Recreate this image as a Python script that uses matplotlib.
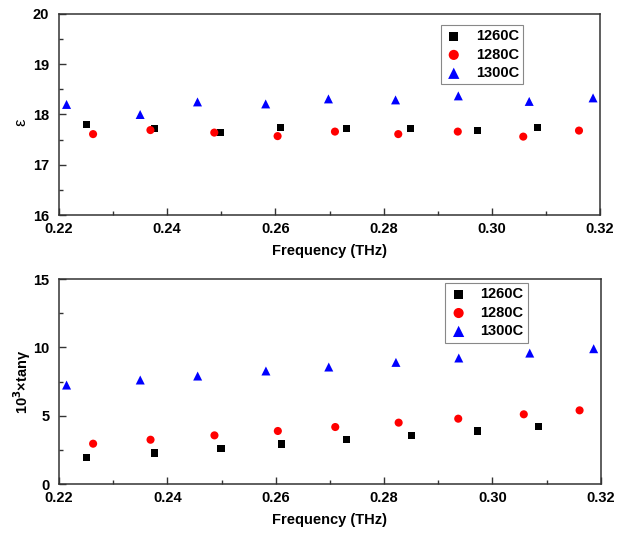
import numpy as np
import matplotlib
matplotlib.use('Agg')
import matplotlib.pyplot as plt
from matplotlib.ticker import MultipleLocator

plt.rcParams['font.family'] = ['Liberation Sans', 'DejaVu Sans']

labels = ['1260C', '1280C', '1300C']

# permittivity
f_1260 = [0.2251, 0.2376, 0.2499, 0.2610, 0.2731, 0.2850, 0.2973, 0.3085]
eps_1260 = [17.80, 17.72, 17.65, 17.74, 17.73, 17.73, 17.69, 17.75]
f_1280 = [0.2263, 0.2369, 0.2487, 0.2604, 0.2710, 0.2827, 0.2937, 0.3058, 0.3161]
eps_1280 = [17.61, 17.69, 17.64, 17.57, 17.66, 17.61, 17.66, 17.56, 17.68]
f_1300 = [0.2214, 0.2350, 0.2456, 0.2582, 0.2698, 0.2822, 0.2938, 0.3069, 0.3187]
eps_1300 = [18.20, 18.00, 18.25, 18.21, 18.31, 18.29, 18.37, 18.26, 18.33]

# loss tangent (x1e3)
tan_1260 = [1.93, 2.27, 2.58, 2.93, 3.24, 3.53, 3.88, 4.19]
tan_1280 = [2.95, 3.24, 3.56, 3.88, 4.17, 4.49, 4.78, 5.10, 5.39]
tan_1300 = [7.24, 7.61, 7.90, 8.27, 8.56, 8.90, 9.22, 9.58, 9.90]

styles = [('s', 'black', 26), ('o', 'red', 34), ('^', 'blue', 42)]

fig = plt.figure(figsize=(6.17, 5.35), dpi=100)
ax1 = fig.add_axes([0.0956, 0.598, 0.877, 0.376])
ax2 = fig.add_axes([0.0956, 0.0953, 0.878, 0.3832])


def draw(ax, series, ylim, major, minor, anchor):
    for (x, y), (m, c, s), lab in zip(series, styles, labels):
        ax.scatter(x, y, marker=m, color=c, s=s, edgecolors='none', label=lab)
    ax.set_xlim(0.22, 0.32)
    ax.set_ylim(*ylim)
    ax.xaxis.set_major_locator(MultipleLocator(0.02))
    ax.xaxis.set_minor_locator(MultipleLocator(0.01))
    ax.yaxis.set_major_locator(MultipleLocator(major))
    ax.yaxis.set_minor_locator(MultipleLocator(minor))
    ax.xaxis.set_major_formatter(matplotlib.ticker.FormatStrFormatter('%.2f'))
    ax.tick_params(which='both', direction='in', color='#333333', width=1,
                   top=False, right=False)
    ax.tick_params(which='major', length=5, labelsize=10.5)
    ax.tick_params(which='minor', length=3)
    ax.tick_params(axis='x', which='major', pad=5)
    ax.tick_params(axis='y', which='major', pad=7)
    for t in ax.get_xticklabels() + ax.get_yticklabels():
        t.set_fontweight('bold')
    for sp in ax.spines.values():
        sp.set_color('#333333')
        sp.set_linewidth(1.1)
    ax.set_xlabel('Frequency (THz)', fontsize=10.5, fontweight='bold', labelpad=6)
    leg = ax.legend(loc='upper right', bbox_to_anchor=anchor,
                    prop={'weight': 'bold', 'size': 10.5}, markerscale=1.25,
                    fancybox=False, framealpha=1, edgecolor='#888888',
                    handletextpad=0.9, borderpad=0.3, labelspacing=0.3,
                    handlelength=1.2, borderaxespad=0)
    leg.get_frame().set_linewidth(0.8)


draw(ax1, [(f_1260, eps_1260), (f_1280, eps_1280), (f_1300, eps_1300)],
     (16, 20), 1, 0.5, (0.858, 0.945))
ax1.set_ylabel('ε', fontsize=12)
ax1.yaxis.set_label_coords(-0.056, 0.46)

draw(ax2, [(f_1260, tan_1260), (f_1280, tan_1280), (f_1300, tan_1300)],
     (0, 15), 5, 2.5, (0.866, 0.98))
ax2.set_ylabel(r'10$^{\mathbf{3}}$×tanγ', fontsize=10.5, fontweight='bold')
ax2.yaxis.set_label_coords(-0.048, 0.5)

fig.savefig('out.png', dpi=100)
